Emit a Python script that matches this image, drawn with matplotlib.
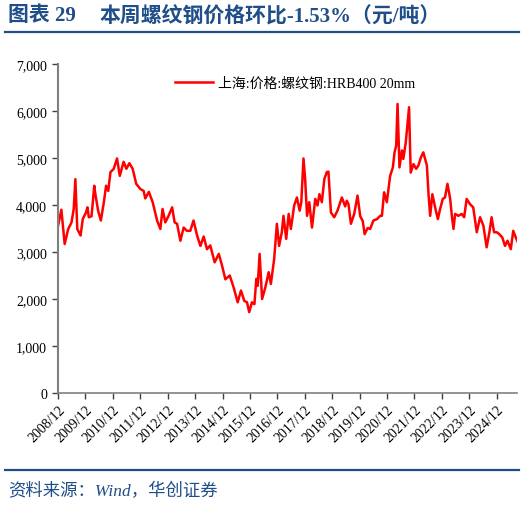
import matplotlib
matplotlib.use('Agg')
import matplotlib.pyplot as plt
from matplotlib.lines import Line2D

# weekly-ish price readings, decimal year vs yuan/ton
years = [2008.92, 2009.04, 2009.16, 2009.29, 2009.41, 2009.49, 2009.55, 2009.62, 2009.74, 2009.82,
         2009.94, 2009.99, 2010.04, 2010.14, 2010.24, 2010.28, 2010.38, 2010.48, 2010.59, 2010.67,
         2010.75, 2010.83, 2010.95, 2011.07, 2011.17, 2011.31, 2011.41, 2011.52, 2011.64, 2011.77,
         2011.92, 2012.04, 2012.10, 2012.23, 2012.37, 2012.53, 2012.65, 2012.73, 2012.83, 2012.95,
         2013.08, 2013.17, 2013.26, 2013.38, 2013.50, 2013.62, 2013.74, 2013.86, 2013.99, 2014.11,
         2014.23, 2014.35, 2014.47, 2014.63, 2014.78, 2014.90, 2015.02, 2015.18, 2015.32, 2015.47,
         2015.59, 2015.71, 2015.81, 2015.89, 2015.99, 2016.08, 2016.15, 2016.20, 2016.27, 2016.36,
         2016.48, 2016.60, 2016.68, 2016.80, 2016.90, 2016.98, 2017.08, 2017.14, 2017.24, 2017.33,
         2017.41, 2017.53, 2017.63, 2017.73, 2017.79, 2017.87, 2017.93, 2018.00, 2018.08, 2018.18,
         2018.30, 2018.38, 2018.45, 2018.54, 2018.63, 2018.72, 2018.78, 2018.87, 2018.99, 2019.11,
         2019.27, 2019.39, 2019.45, 2019.51, 2019.60, 2019.72, 2019.84, 2019.94, 2020.03, 2020.10,
         2020.21, 2020.30, 2020.42, 2020.55, 2020.67, 2020.73, 2020.81, 2020.91, 2021.03, 2021.13,
         2021.19, 2021.25, 2021.30, 2021.37, 2021.46, 2021.51, 2021.60, 2021.68, 2021.72, 2021.78,
         2021.88, 2021.98, 2022.06, 2022.15, 2022.24, 2022.37, 2022.43, 2022.49, 2022.57, 2022.67,
         2022.77, 2022.85, 2022.95, 2023.03, 2023.12, 2023.22, 2023.28, 2023.34, 2023.40, 2023.52,
         2023.64, 2023.73, 2023.82, 2023.94, 2024.06, 2024.19, 2024.31, 2024.43, 2024.55, 2024.65,
         2024.73, 2024.82, 2024.92, 2025.01, 2025.12, 2025.22, 2025.31, 2025.43, 2025.52, 2025.61,
         2025.68]
price = [3560, 3900, 3170, 3490, 3630, 3915, 4550, 3490, 3350, 3700,
         3845, 3950, 3740, 3760, 4410, 4230, 3880, 3670, 4060, 4410,
         4300, 4700, 4770, 4990, 4620, 4920, 4770, 4890, 4770, 4450,
         4340, 4300, 4140, 4280, 4060, 3670, 3490, 3915, 3630, 3770,
         3950, 3630, 3600, 3240, 3520, 3450, 3450, 3670, 3350, 3130,
         3330, 3060, 3140, 2780, 2960, 2710, 2420, 2500, 2250, 1930,
         2180, 1960, 1930, 1720, 1930, 1890, 2430, 2280, 2960, 2000,
         2250, 2570, 2320, 2850, 3600, 3130, 3420, 3770, 3280, 3810,
         3490, 3990, 4160, 3880, 4060, 4990, 4550, 3770, 4060, 3520,
         4130, 3990, 4230, 4060, 4550, 4700, 4710, 3840, 3740, 3880,
         4160, 3970, 4090, 4020, 3600, 3810, 4200, 3760, 3660, 3380,
         3510, 3490, 3670, 3700, 3770, 3770, 4270, 4060, 4620, 4800,
         5120, 5260, 6150, 4800, 5160, 4980, 5330, 5830, 6080, 4690,
         4870, 4770, 4840, 5010, 5120, 4840, 4230, 3770, 4230, 3950,
         3700, 3910, 4130, 4160, 4450, 4130, 3770, 3490, 3810, 3770,
         3810, 3740, 4130, 4020, 3950, 3420, 3740, 3560, 3100, 3420,
         3740, 3420, 3420, 3380, 3310, 3130, 3240, 3060, 3450, 3310,
         3220]

tick_years = list(range(2008, 2025))
tick_labels = ['%d/12' % y for y in tick_years]
yticks = [0, 1000, 2000, 3000, 4000, 5000, 6000, 7000]

title_num = '图表 29'
title_text = '本周螺纹钢价格环比-1.53%（元/吨）'
series_name = '上海:价格:螺纹钢:HRB400 20mm'
source = '资料来源：Wind，华创证券'

blue = '#1F4E89'
fams = ['Liberation Serif', 'Noto Sans CJK SC']

fig = plt.figure(figsize=(5.24, 5.06), dpi=100)
ax = fig.add_axes([58/524, 1-394/506, 459/524, 329/506])

ax.plot(years, price, color='#FF0000', lw=1.8)

ax.set_ylim(0, 7000)
ax.set_xlim(2008.917, 2008.917 + (517 - 57.5)/27.45)
ax.set_yticks(yticks)
ax.set_yticklabels(['{:,}'.format(v) for v in yticks], family=fams, fontsize=10)
ax.set_xticks([y + 0.917 for y in tick_years])
ax.set_xticklabels(tick_labels, family=fams, fontsize=10, rotation=45,
                   ha='right', va='top', rotation_mode='anchor')

for s in ['top', 'right']:
    ax.spines[s].set_visible(False)
ax.spines['left'].set_color('#808080')
ax.spines['left'].set_linewidth(1.5)
ax.spines['bottom'].set_color('#808080')
ax.spines['bottom'].set_linewidth(1.2)
ax.tick_params(axis='both', direction='out', length=4, width=1, color='#404040')
ax.tick_params(axis='y', pad=4)
ax.tick_params(axis='x', pad=3)

ax.legend([Line2D([], [], color='#FF0000', lw=1.8)], [series_name],
          loc='upper left', bbox_to_anchor=(0.228, 0.998), frameon=False,
          handlelength=2.7, handletextpad=0.4, prop={'family': fams, 'size': 10})

fig.text(8/524, 1-16/506, title_num, family=fams, fontweight='bold',
         fontsize=15, color=blue, va='center', ha='left')
fig.text(100/524, 1-16/506, title_text, family=fams, fontweight='bold',
         fontsize=15, color=blue, va='center', ha='left')
fig.add_artist(Line2D([5/524, 519/524], [1-33/506, 1-33/506], color=blue, lw=1.6))
fig.add_artist(Line2D([5/524, 519/524], [1-471/506, 1-471/506], color=blue, lw=1.6))
fig.text(8/524, 1-492/506, source, family=fams, style='italic',
         fontsize=12.5, color=blue, va='center', ha='left')

fig.savefig('out.png', dpi=100)
